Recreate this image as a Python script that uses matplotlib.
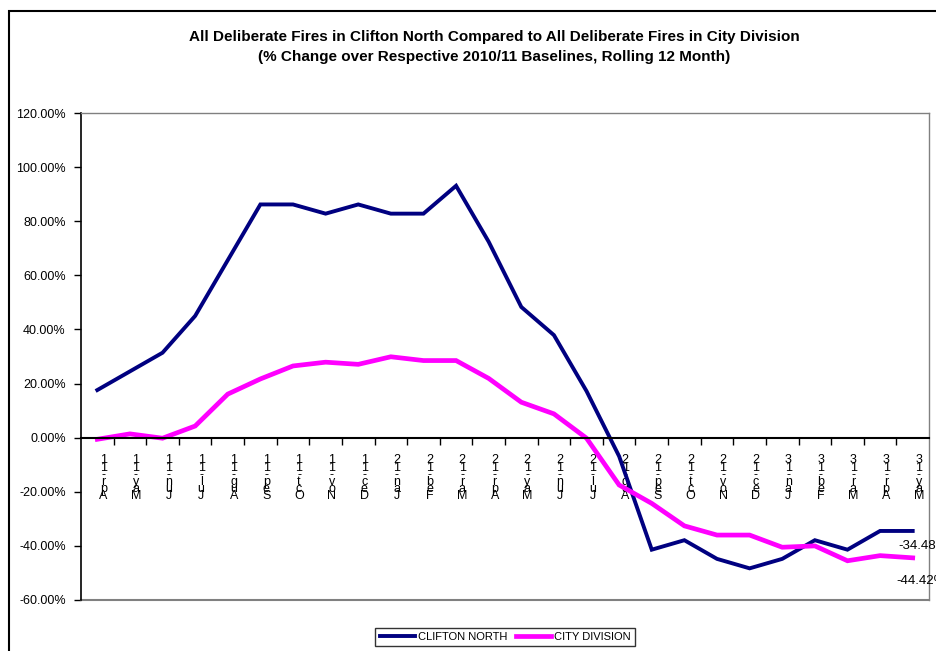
import matplotlib
matplotlib.use("Agg")
import matplotlib.pyplot as plt
import matplotlib.transforms as mtransforms
from matplotlib.lines import Line2D
from matplotlib.patches import Rectangle
import numpy as np

plt.rcParams['font.family'] = ['Liberation Sans', 'DejaVu Sans']

months = ["Apr-11", "May-11", "Jun-11", "Jul-11", "Aug-11", "Sep-11", "Oct-11", "Nov-11",
          "Dec-11", "Jan-12", "Feb-12", "Mar-12", "Apr-12", "May-12", "Jun-12", "Jul-12",
          "Aug-12", "Sep-12", "Oct-12", "Nov-12", "Dec-12", "Jan-13", "Feb-13", "Mar-13",
          "Apr-13", "May-13"]
clifton_north = [17.6, 24.5, 31.4, 45.0, 65.6, 86.2, 86.2, 82.8, 86.2, 82.8, 82.8, 93.1,
                 72.4, 48.3, 37.9, 17.2, -6.9, -41.4, -37.9, -44.8, -48.3, -44.8, -37.9,
                 -41.4, -34.48, -34.48]
city_division = [-0.6, 1.4, -0.2, 4.3, 16.1, 21.7, 26.5, 27.9, 27.1, 29.9, 28.5, 28.5,
                 21.9, 13.1, 8.8, -0.2, -17.5, -24.3, -32.6, -36.0, -36.0, -40.5, -40.0,
                 -45.5, -43.6, -44.42]
series_names = ["CLIFTON NORTH", "CITY DIVISION"]
yticks = [-60, -40, -20, 0, 20, 40, 60, 80, 100, 120]

W, H = 936, 651
fig = plt.figure(figsize=(W / 100, H / 100), dpi=100)

# outer border
fig.patches.append(Rectangle((9 / W, -0.1), 1.2, 1 - 11 / H + 0.1, transform=fig.transFigure,
                             fill=False, edgecolor='black', linewidth=1.5))

x0, x1, ytop, ybot = 81, 929, 113, 600
ax = fig.add_axes([x0 / W, 1 - ybot / H, (x1 - x0) / W, (ybot - ytop) / H])
x = np.arange(len(months))
ax.plot(x, clifton_north, color='#000080', lw=2.8, label=series_names[0], solid_joinstyle='miter')
ax.plot(x, city_division, color='#FF00FF', lw=3.4, label=series_names[1], solid_joinstyle='miter')

ax.set_xlim(-0.5, len(months) - 0.5)
ax.set_ylim(-60, 120)
ax.set_yticks(yticks)
ax.set_yticklabels([f"{v:.2f}%" for v in yticks], fontsize=9)
ax.tick_params(axis='y', direction='out', length=5, width=1, pad=6, colors='black')

for s in ['top', 'right']:
    ax.spines[s].set_color('#808080')
    ax.spines[s].set_linewidth(1)
ax.spines['left'].set_color('black')
ax.spines['left'].set_linewidth(1.2)
ax.spines['bottom'].set_position(('data', 0))
ax.spines['bottom'].set_color('black')
ax.spines['bottom'].set_linewidth(1.5)
ax.axhline(-60, color='#808080', lw=1.5, clip_on=False)

stacked = ["\n".join(reversed(m)) for m in months]
ax.set_xticks(x)
ax.set_xticklabels(stacked, fontsize=9, linespacing=0.47, va='top', ha='center')
ax.set_xticks(np.arange(0.5, len(months) - 0.5, 1), minor=True)
ax.tick_params(axis='x', which='major', length=0, pad=12)
ax.tick_params(axis='x', which='minor', direction='out', length=5, width=1)
offset = mtransforms.ScaledTranslation(6 / 100, 0, fig.dpi_scale_trans)
for lab in ax.get_xticklabels():
    lab.set_transform(lab.get_transform() + offset)

# data labels for last points
ax.annotate(f"{clifton_north[-1]:.2f}%", (x[-1], clifton_north[-1]), xytext=(-10, -11),
            textcoords='offset points', fontsize=9.5, va='center', ha='left', annotation_clip=False)
ax.annotate(f"{city_division[-1]:.2f}%", (x[-1], city_division[-1]), xytext=(-12, -17),
            textcoords='offset points', fontsize=9.5, va='center', ha='left', annotation_clip=False)

fig.text(494 / W, 1 - 37 / H,
         "All Deliberate Fires in Clifton North Compared to All Deliberate Fires in City Division",
         ha='center', va='center', fontsize=11, fontweight='bold')
fig.text(494 / W, 1 - 57 / H,
         "(% Change over Respective 2010/11 Baselines, Rolling 12 Month)",
         ha='center', va='center', fontsize=11, fontweight='bold')

handles = [Line2D([], [], color='#000080', lw=2.8), Line2D([], [], color='#FF00FF', lw=3.4)]
leg = fig.legend(handles, series_names, loc='center', bbox_to_anchor=(505 / W, 1 - 637 / H),
                 ncol=2, fontsize=8, frameon=True, fancybox=False, edgecolor='black',
                 handlelength=3.2, handletextpad=0.2, columnspacing=0.8, borderpad=0.4)
leg.get_frame().set_linewidth(1)

fig.savefig("out.png", dpi=100)
